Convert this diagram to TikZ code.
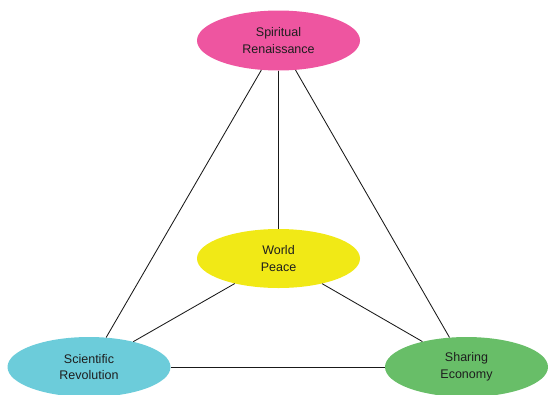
\documentclass[tikz,border=0pt]{standalone}
\usepackage{fontspec}
\setmainfont{Liberation Sans}
\usetikzlibrary{shapes.geometric}
\definecolor{cpink}{RGB}{238,85,160}
\definecolor{cyellow}{RGB}{241,233,22}
\definecolor{ccyan}{RGB}{108,204,218}
\definecolor{cgreen}{RGB}{104,190,104}
\definecolor{ctext}{RGB}{30,30,30}
\begin{document}
\begin{tikzpicture}[x=1pt,y=-1pt,
  bubble/.style={ellipse, minimum width=163pt, minimum height=60pt, inner sep=0pt,
    align=center, text=ctext, font=\fontsize{12.5}{16.5}\selectfont},
  link/.style={draw=black!90, line width=0.85pt}]
\useasboundingbox (0,0) rectangle (548,394);
\node[bubble, fill=cpink] (sr) at (278.5,40.5) {Spiritual\\Renaissance};
\node[bubble, fill=cyellow, minimum height=59pt] (wp) at (278.5,258.5) {World\\Peace};
\node[bubble, fill=ccyan] (sc) at (89,367) {Scientific\\Revolution};
\node[bubble, fill=cgreen] (se) at (466.5,367) {Sharing\\Economy};
\draw[link] (sr) -- (wp);
\draw[link] (sr) -- (sc);
\draw[link] (sr) -- (se);
\draw[link] (wp) -- (sc);
\draw[link] (wp) -- (se);
\draw[link] (sc) -- (se);
\end{tikzpicture}
\end{document}
